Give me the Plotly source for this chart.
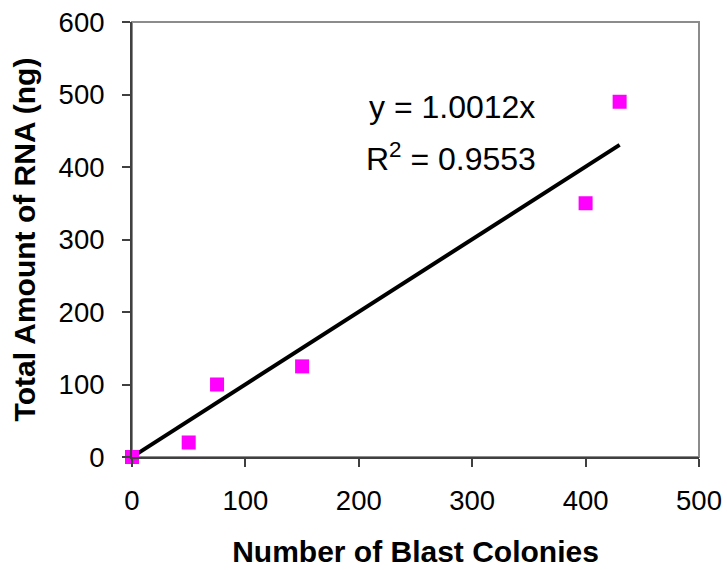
import plotly.graph_objects as go

colonies = [0, 50, 75, 150, 400, 430]
rna_ng = [0, 20, 100, 125, 350, 490]
slope = 1.0012
r_squared = 0.9553
trend_x = [0, 430]
trend_y = [slope * v for v in trend_x]
x_ticks = [0, 100, 200, 300, 400, 500]
y_ticks = [0, 100, 200, 300, 400, 500, 600]

FONT = "Liberation Sans, Arial, sans-serif"

fig = go.Figure()
fig.add_trace(go.Scatter(x=trend_x, y=trend_y, mode="lines",
                         line=dict(color="black", width=4), showlegend=False,
                         cliponaxis=False))
fig.add_trace(go.Scatter(x=colonies, y=rna_ng, mode="markers",
                         marker=dict(symbol="square", size=14, color="#FF00FF",
                                     line=dict(width=0)),
                         showlegend=False, cliponaxis=False))

fig.add_shape(type="rect", xref="paper", yref="paper", x0=0, x1=1, y0=0, y1=1,
              line=dict(color="#8c8c8c", width=2), layer="below")

fig.add_annotation(x=282, y=483, xref="x", yref="y",
                   text=f"y = {slope}x",
                   showarrow=False, align="center",
                   font=dict(family=FONT, size=32, color="black"))
fig.add_annotation(x=281, y=414, xref="x", yref="y",
                   text=f"R<sup>2</sup> = {r_squared}",
                   showarrow=False, align="center",
                   font=dict(family=FONT, size=32, color="black"))

fig.update_layout(
    width=727, height=570,
    margin=dict(l=132, r=28, t=22, b=113),
    plot_bgcolor="white", paper_bgcolor="white",
    font=dict(family=FONT, size=27.5, color="black"),
    xaxis=dict(range=[0, 500], tickvals=x_ticks, showgrid=False, zeroline=False,
               showline=True, linecolor="#404040", linewidth=2, automargin=False,
               ticks="outside", ticklen=8, tickwidth=2, tickcolor="#404040",
               ticklabelstandoff=10,
               title=dict(text="<b>Number of Blast Colonies</b>", standoff=26,
                          font=dict(family=FONT, size=30))),
    yaxis=dict(range=[0, 600], tickvals=y_ticks, showgrid=False, zeroline=False,
               showline=True, linecolor="#404040", linewidth=2, automargin=False,
               ticks="outside", ticklen=8, tickwidth=2, tickcolor="#404040",
               ticklabelstandoff=12,
               title=dict(text="<b>Total Amount of RNA (ng)</b>", standoff=14,
                          font=dict(family=FONT, size=30))),
)

fig.write_html("out.html")
